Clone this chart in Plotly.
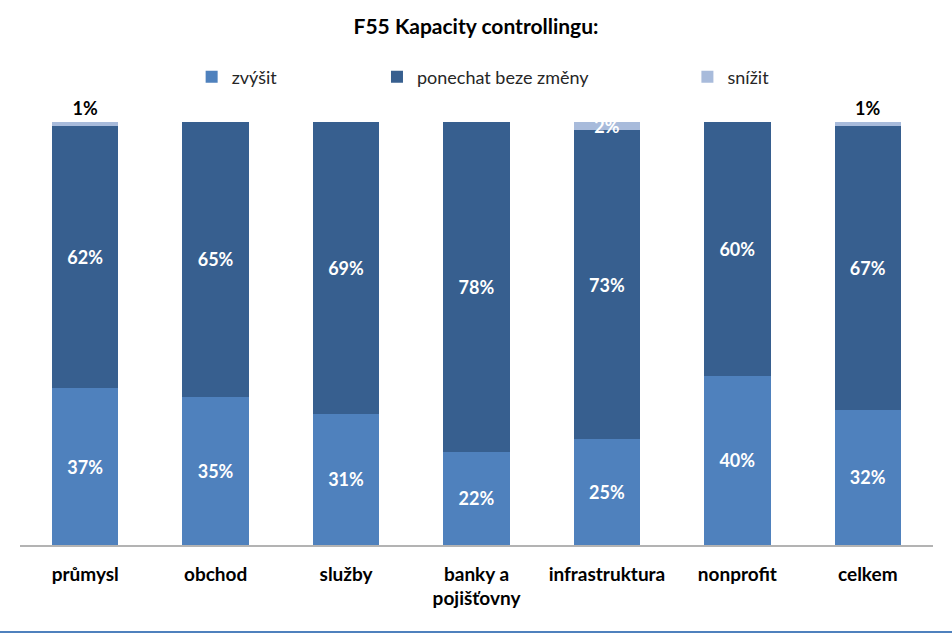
import plotly.graph_objects as go

categories = ["průmysl", "obchod", "služby", "banky a<br>pojišťovny", "infrastruktura", "nonprofit", "celkem"]
zvysit = [37, 35, 31, 22, 25, 40, 32]
ponechat = [62, 65, 69, 78, 73, 60, 67]
snizit = [1, 0, 0, 0, 2, 0, 1]
snizit_pos = ["outside", "none", "none", "none", "inside", "none", "outside"]

C_ZV = "#4F81BD"
C_PO = "#375F8F"
C_SN = "#A8BBDB"
FONT = "Lato"
LBL = 18

def lab(vals):
    return [f"{v}%" if v > 0 else "" for v in vals]

fig = go.Figure()
fig.add_trace(go.Bar(
    x=categories, y=[v / 100 for v in zvysit], name="zvýšit",
    marker=dict(color=C_ZV, line=dict(width=0)), text=lab(zvysit),
    textposition="inside", insidetextanchor="middle",
    textfont=dict(color="white", size=LBL, family=FONT, weight="bold"),
    legend="legend", width=0.51, cliponaxis=False,
))
fig.add_trace(go.Bar(
    x=categories, y=[v / 100 for v in ponechat], name="ponechat beze změny",
    marker=dict(color=C_PO, line=dict(width=0)), text=lab(ponechat),
    textposition="inside", insidetextanchor="middle",
    textfont=dict(color="white", size=LBL, family=FONT, weight="bold"),
    legend="legend2", width=0.51, cliponaxis=False,
))
fig.add_trace(go.Bar(
    x=categories, y=[v / 100 for v in snizit], name="snížit",
    marker=dict(color=C_SN, line=dict(width=0)), text=lab(snizit),
    textposition=snizit_pos, insidetextanchor="middle",
    insidetextfont=dict(color="white", size=LBL, family=FONT, weight="bold"),
    outsidetextfont=dict(color="black", size=LBL, family=FONT, weight="bold"),
    legend="legend3", width=0.51, cliponaxis=False,
))

leg_common = dict(orientation="h", yanchor="middle", y=1.106, xanchor="left",
                  font=dict(size=18, family=FONT, color="#262626"),
                  itemwidth=30, bgcolor="rgba(0,0,0,0)", borderwidth=0)

fig.update_layout(
    width=952, height=635,
    margin=dict(l=20, r=19, t=122, b=90, autoexpand=False),
    paper_bgcolor="white", plot_bgcolor="white",
    barmode="stack",
    uniformtext=dict(minsize=LBL, mode="show"),
    title=dict(text="<b>F55 Kapacity controllingu:</b>", x=0.5, xanchor="center",
               y=1 - 27 / 635, yanchor="middle",
               font=dict(size=21, family=FONT, color="black")),
    legend=dict(x=0.188, **leg_common),
    legend2=dict(x=0.391, **leg_common),
    legend3=dict(x=0.731, **leg_common),
    xaxis=dict(showline=True, linecolor="#B3B3B3", linewidth=1.5, ticks="",
               tickfont=dict(size=19, family=FONT, color="black", weight="bold"),
               ticklabelstandoff=11, fixedrange=True),
    yaxis=dict(range=[0, 1], visible=False, showgrid=False, fixedrange=True),
    shapes=[dict(type="line", xref="paper", yref="paper",
                 x0=-20 / 913, x1=932 / 913, y0=-87 / 423, y1=-87 / 423,
                 line=dict(color="#4F81BD", width=2))],
    showlegend=True,
)

fig.write_html("out.html")
